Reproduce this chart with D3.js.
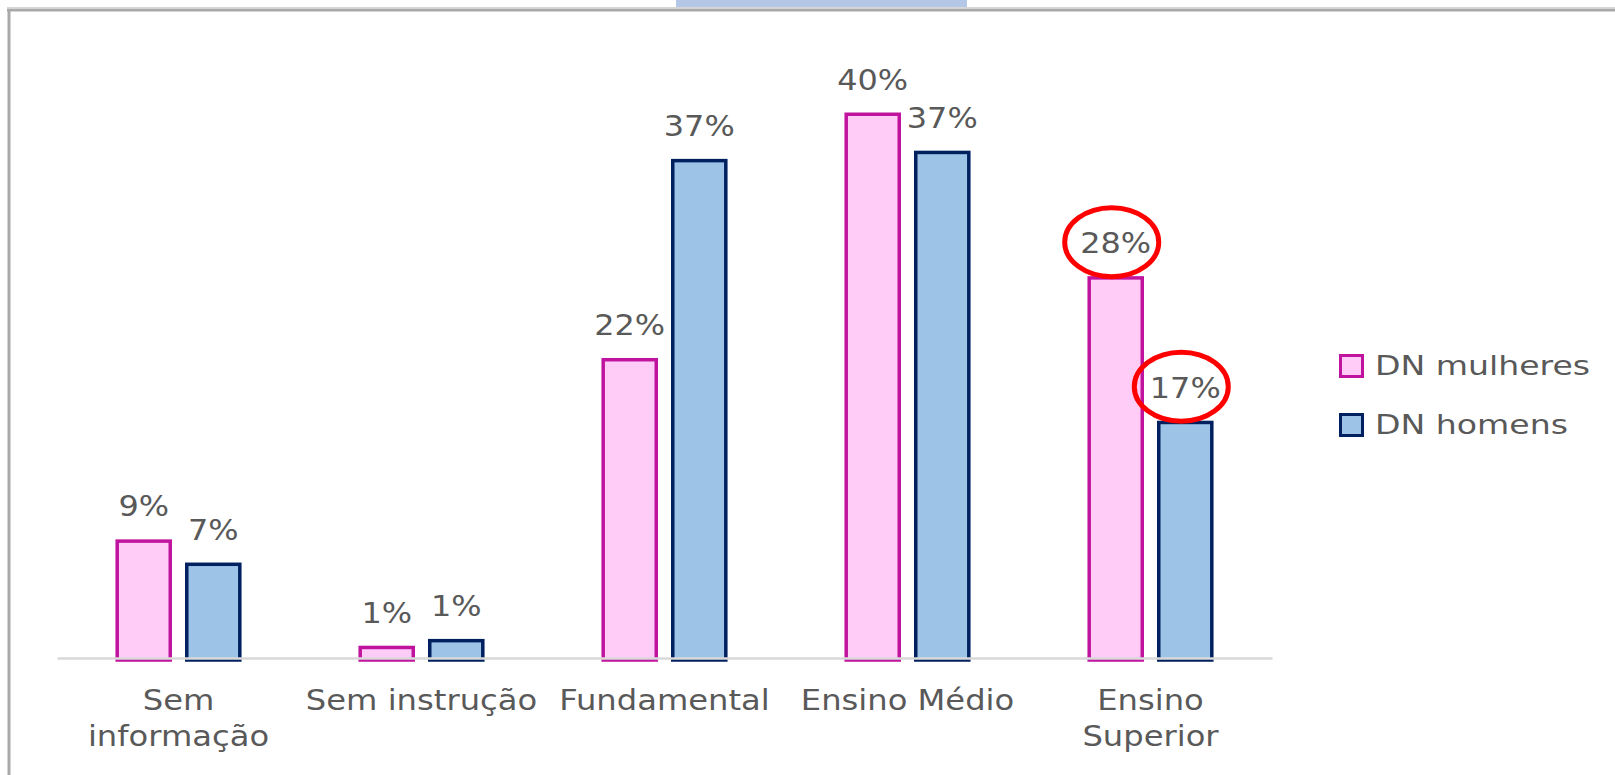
<!DOCTYPE html>
<html>
<head>
<meta charset="utf-8">
<script src="https://cdn.jsdelivr.net/npm/d3@7"></script>
<style>
  body { margin: 0; background: #fff; }
  svg { display: block; }
  text { font-family: "DejaVu Sans", Verdana, sans-serif; fill: #595959; }
</style>
</head>
<body>
<svg id="svg0"></svg>
<script>
// data
var categories = ["Sem informação", "Sem instrução", "Fundamental", "Ensino Médio", "Ensino Superior"];
var tickLines = [["Sem", "informação"], ["Sem instrução"], ["Fundamental"], ["Ensino Médio"], ["Ensino", "Superior"]];
var seriesNames = ["DN mulheres", "DN homens"];
var mulheres = [0.087, 0.009, 0.220, 0.400, 0.280];
var homens = [0.070, 0.014, 0.366, 0.372, 0.174];
var circled = [["Ensino Superior", "DN mulheres"], ["Ensino Superior", "DN homens"]];

var fills = { "DN mulheres": "#ffccf7", "DN homens": "#9dc3e6" };
var strokes = { "DN mulheres": "#c0149f", "DN homens": "#002060" };

var width = 1615, height = 775;
var svg = d3.select("#svg0").attr("width", width).attr("height", height);

// frame bits of the slide
svg.append("rect").attr("x", 676).attr("y", 0).attr("width", 291).attr("height", 7).attr("fill", "#b4c7e7");
svg.append("line").attr("x1", 7).attr("x2", width).attr("y1", 7.5).attr("y2", 7.5)
   .attr("stroke", "#d6d6d6").attr("stroke-width", 1);
svg.append("line").attr("x1", 7).attr("x2", width).attr("y1", 10).attr("y2", 10)
   .attr("stroke", "#a9a9a9").attr("stroke-width", 3);
svg.append("line").attr("x1", 9).attr("x2", 9).attr("y1", 9).attr("y2", height)
   .attr("stroke", "#a9a9a9").attr("stroke-width", 3);

var rows = categories.map(function(c, i) {
  return { cat: c, values: [
    { key: "DN mulheres", cat: c, v: mulheres[i] },
    { key: "DN homens", cat: c, v: homens[i] }
  ] };
});

var x0 = d3.scaleBand()
           .domain(categories)
           .range([57, 1272])
           .paddingInner(0.481)
           .paddingOuter(0.2405);

var x1 = d3.scaleBand()
           .domain(seriesNames)
           .range([0, x0.bandwidth()])
           .paddingInner(0.187);

var y = d3.scaleLinear()
          .domain([0, 0.40])
          .range([658, 112.5]);

var fmt = d3.format(".0%");
var sw = 3.5;

var groups = svg.selectAll(".cat")
                .data(rows)
                .enter()
                .append("g")
                .attr("class", "cat")
                .attr("transform", function(d) { return "translate(" + x0(d.cat) + ",0)"; });

groups.selectAll("rect")
      .data(function(d) { return d.values; })
      .enter()
      .append("rect")
      .attr("x", function(d) { return x1(d.key) + sw / 2; })
      .attr("y", function(d) { return y(d.v) + sw / 2; })
      .attr("width", x1.bandwidth() - sw)
      .attr("height", function(d) { return y(0) - y(d.v) - sw / 2 + 2; })
      .attr("fill", function(d) { return fills[d.key]; })
      .attr("stroke", function(d) { return strokes[d.key]; })
      .attr("stroke-width", sw);

groups.selectAll(".lbl")
      .data(function(d) { return d.values; })
      .enter()
      .append("text")
      .attr("class", "lbl")
      .attr("text-anchor", "middle")
      .attr("transform", function(d) {
        return "translate(" + (x1(d.key) + x1.bandwidth() / 2) + "," + (y(d.v) - 23) + ") scale(1.14,1)";
      })
      .style("font-size", "28px")
      .text(function(d) { return fmt(d.v); });

// x axis
var xAxis = d3.axisBottom(x0).tickSize(0).tickSizeOuter(0).tickPadding(0);
var gx = svg.append("g")
            .attr("transform", "translate(0,658)")
            .call(xAxis);
gx.select(".domain").attr("stroke", "#d9d9d9").attr("stroke-width", 2.5);
gx.selectAll(".tick text").each(function(d, i) {
  var t = d3.select(this);
  t.text(null)
   .attr("y", 0).attr("dy", null)
   .attr("transform", "scale(1.13,1)")
   .style("font-size", "28.5px")
   .style("font-family", "'DejaVu Sans', Verdana, sans-serif")
   .attr("fill", "#595959");
  tickLines[categories.indexOf(d)].forEach(function(line, j) {
    t.append("tspan").attr("x", 0).attr("y", 52 + j * 36).text(line);
  });
});

// red circles around the highlighted labels
circled.forEach(function(c) {
  var i = categories.indexOf(c[0]);
  var v = c[1] === "DN mulheres" ? mulheres[i] : homens[i];
  svg.append("ellipse")
     .attr("cx", x0(c[0]) + x1(c[1]) + x1.bandwidth() / 2 - 4)
     .attr("cy", y(v) - 34)
     .attr("rx", 47)
     .attr("ry", 34.5)
     .attr("fill", "none")
     .attr("stroke", "#ff0000")
     .attr("stroke-width", 5);
});

// legend
var legend = svg.selectAll(".leg")
                .data(seriesNames)
                .enter()
                .append("g")
                .attr("class", "leg")
                .attr("transform", function(d, i) { return "translate(1339," + (354 + i * 59) + ")"; });

legend.append("rect")
      .attr("x", 1.5).attr("y", 1.5)
      .attr("width", 22).attr("height", 21)
      .attr("fill", function(d) { return fills[d]; })
      .attr("stroke", function(d) { return strokes[d]; })
      .attr("stroke-width", 3);

legend.append("text")
      .attr("transform", "translate(36,21) scale(1.25,1)")
      .style("font-size", "26.5px")
      .text(function(d) { return d; });
</script>
</body>
</html>
